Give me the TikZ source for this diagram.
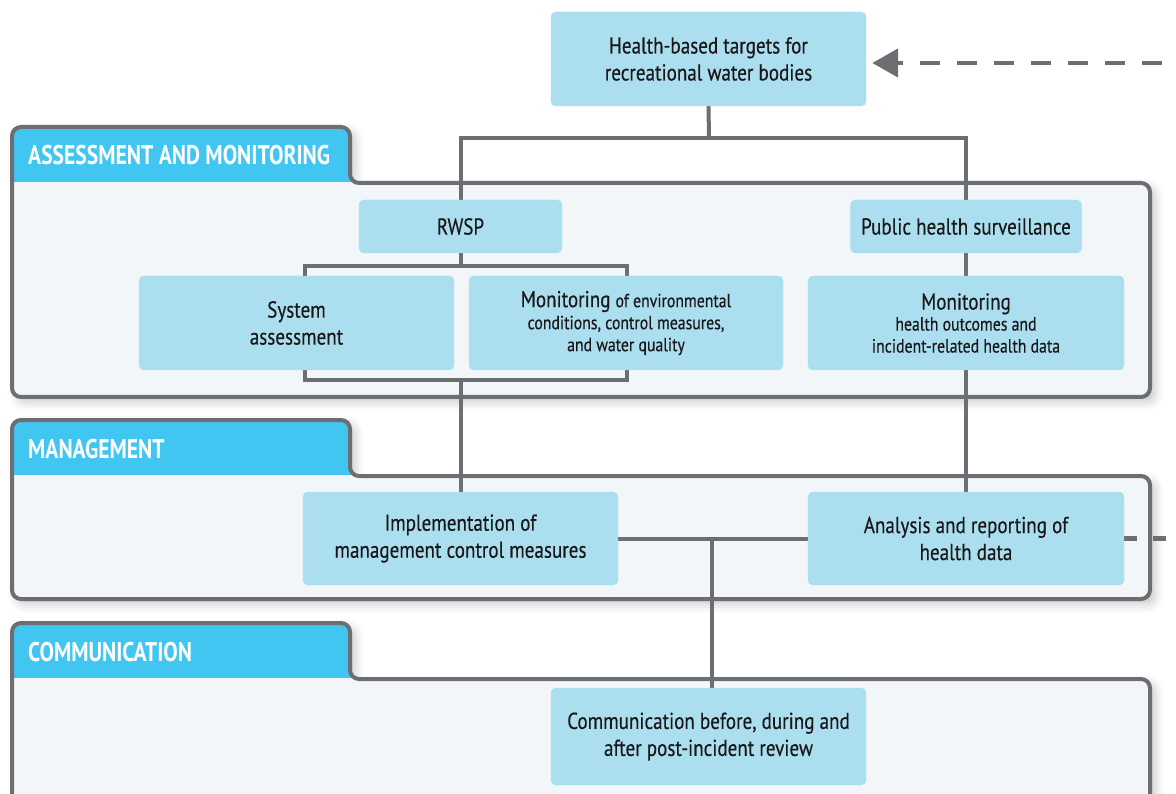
\documentclass[tikz,border=0pt]{standalone}
\usepackage{fontspec}
\setmainfont{PT Sans}[FakeStretch=0.83, FakeBold=0.3]
\newfontfamily\tabfont{PT Sans Bold}[FakeStretch=0.8]
\usetikzlibrary{shadows.blur,arrows.meta}
\definecolor{linegray}{HTML}{6D6E71}
\definecolor{tabcyan}{HTML}{41C5F1}
\definecolor{bodyfill}{HTML}{F3F6F8}
\definecolor{boxblue}{HTML}{ABDFF0}
\definecolor{txt}{HTML}{1A1718}

% one framed section: top of tab #1, bottom edge #2, heading #3
\newcommand\drawpanel[3]{%
  \path[panelbody] (12,#1+60) -- (12,#1) -- (350,#1) -- (350,#1+56)
     -- (1150,#1+56) -- (1150,#2) -- (12,#2) -- cycle;
  \begin{scope}
    \clip[rounded corners=9pt] (12,#1+60) -- (12,#1) -- (350,#1) -- (350,#1+56)
     -- (1150,#1+56) -- (1150,#2) -- (12,#2) -- cycle;
    \fill[tabcyan] (0,#1) rectangle (352,#1+55);
  \end{scope}
  \draw[panelline] (12,#1+60) -- (12,#1) -- (350,#1) -- (350,#1+56)
     -- (1150,#1+56) -- (1150,#2) -- (12,#2) -- cycle;
  \node[tabtext] at (28,#1+38) {#3};
}
% smaller running text inside a box
\newcommand\smalltxt[1]{{\fontsize{19}{22}\selectfont #1}}

\begin{document}
\begin{tikzpicture}[x=1pt,y=-1pt,
  panelbody/.style={fill=bodyfill, rounded corners=9pt,
    blur shadow={shadow xshift=5pt, shadow yshift=-5pt,
      shadow blur radius=9pt, shadow opacity=22}},
  panelline/.style={draw=linegray, line width=4pt, rounded corners=9pt},
  tabtext/.style={anchor=base west, inner sep=0pt, text=white,
    font=\tabfont\fontsize{27}{30}\selectfont},
  box/.style={fill=boxblue, rounded corners=5pt, inner sep=0pt,
    align=center, text=txt, font=\fontsize{23}{27}\selectfont},
  boxtext/.style={box, fill=none},
  link/.style={draw=linegray, line width=4pt},
  dashlink/.style={draw=linegray, line width=4.5pt,
    dash pattern=on 20pt off 17pt},
]
\useasboundingbox (0,0) rectangle (1176,794);
\clip (0,0) rectangle (1176,794);

% sections
\drawpanel{127}{397}{ASSESSMENT AND MONITORING}
\drawpanel{420}{599}{MANAGEMENT}
\drawpanel{623}{840}{COMMUNICATION}

% box outlines, placed first so the connectors can refer to them
\node[box, minimum width=315pt, minimum height=94pt] (top) at (708.5,59) {};
\node[box, minimum width=203pt, minimum height=53pt] (rwsp) at (460.5,226.5) {};
\node[box, minimum width=231pt, minimum height=53pt] (phs) at (966,226.5) {};
\node[box, minimum width=315pt, minimum height=94pt] (sys) at (296.5,323) {};
\node[box, minimum width=314pt, minimum height=94pt] (mon) at (626,323) {};
\node[box, minimum width=316pt, minimum height=94pt] (monh) at (966,323) {};
\node[box, minimum width=315pt, minimum height=93pt] (impl) at (460.5,538.5) {};
\node[box, minimum width=316pt, minimum height=93pt] (anal) at (966,538.5) {};
\node[box, minimum width=315pt, minimum height=97pt] (comm) at (708.5,736.5) {};

\coordinate (split) at (709,138);
\coordinate (bra) at (305,266);
\coordinate (brb) at (627,380);
\coordinate (mid) at (712,538.5);
\coordinate (feed) at (1162,63);
\coordinate (edge) at (1176,538.5);

% connectors
\draw[link] (top.south) -- (split);
\draw[link] (rwsp.north) |- (split) -| (phs.north);
\draw[link] (rwsp.south) -- (rwsp.south |- bra);
\draw[link] (bra) rectangle (brb);
\draw[link] (rwsp.south |- brb) -- (impl.north);
\draw[link] (phs.south) -- (anal.north);
\draw[link] (impl.east) -- (anal.west);
\draw[link] (mid) -- (mid |- comm.north);
\draw[dashlink, -{Triangle[length=26pt,width=28pt]}, shorten >=6pt]
  (feed) -- (feed -| top.east);
\draw[dashlink, dash pattern=on 13pt off 16pt] (anal.east) -- (edge);

% boxes over the connectors
\foreach \n in {top,rwsp,phs,sys,mon,monh,impl,anal,comm}{
  \fill[boxblue, rounded corners=5pt] (\n.north west) rectangle (\n.south east);
}
\node[boxtext] at (top) {Health-based targets for\\recreational water bodies};
\node[boxtext] at (rwsp) {RWSP};
\node[boxtext] at (phs) {Public health surveillance};
\node[boxtext] at (sys) {System\\assessment};
\node[boxtext] at (mon)
  {Monitoring \smalltxt{of environmental}\\[-5pt]
   \smalltxt{conditions, control measures,}\\[-5pt]
   \smalltxt{and water quality}};
\node[boxtext] at (monh)
  {Monitoring\\[-6pt]
   \smalltxt{health outcomes and}\\[-5pt]
   \smalltxt{incident-related health data}};
\node[boxtext] at (impl) {Implementation of\\management control measures};
\node[boxtext] at (anal) {Analysis and reporting of\\health data};
\node[boxtext] at (comm) {Communication before, during and\\after post-incident review};
\end{tikzpicture}
\end{document}
